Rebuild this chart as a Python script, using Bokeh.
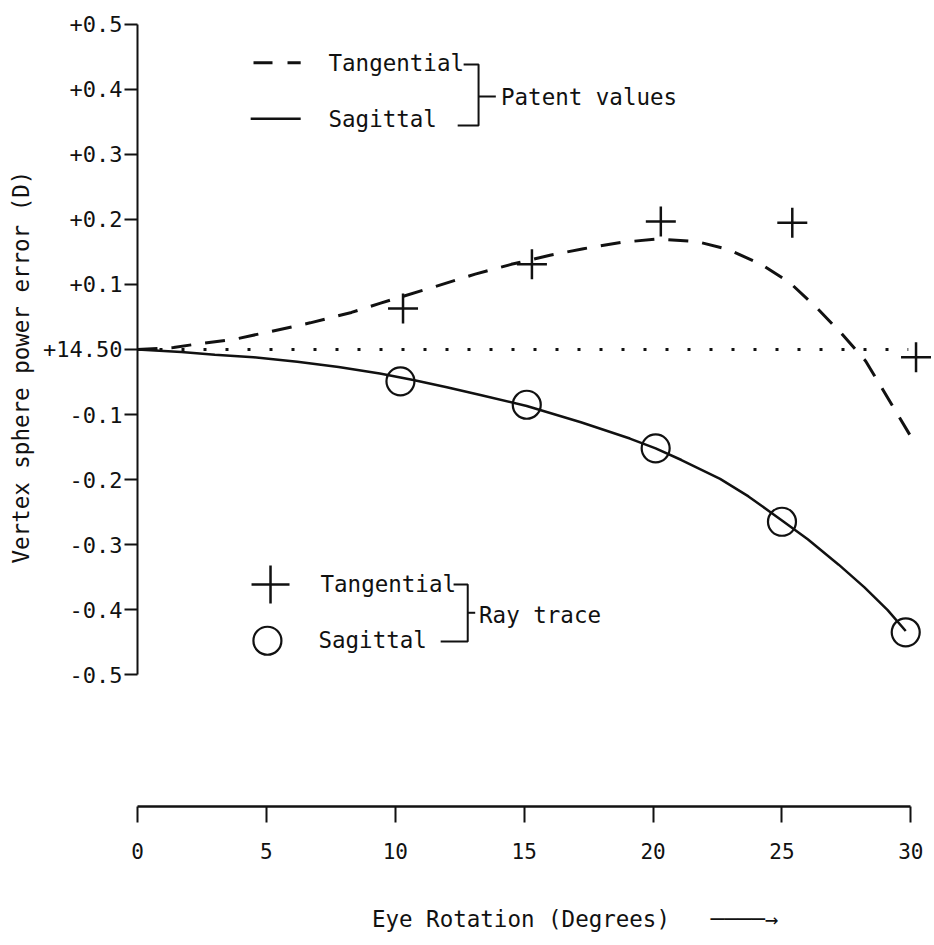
from bokeh.plotting import figure
from bokeh.models import Range1d, FixedTicker
from bokeh.core.properties import value
from bokeh.embed import file_html
from bokeh.resources import INLINE

INK = "#111111"
FONT = "DejaVu Sans Mono"
NB = "\u00a0"

# ---- axis ticks ----
y_ticks = [-0.5, -0.4, -0.3, -0.2, -0.1, 0.0, 0.1, 0.2, 0.3, 0.4, 0.5]
y_tick_labels = ["-0.5", "-0.4", "-0.3", "-0.2", "-0.1", "+14.50",
                 "+0.1", "+0.2", "+0.3", "+0.4", "+0.5"]
x_ticks = [0, 5, 10, 15, 20, 25, 30]

# ---- patent values (curves) ----
pat_tan_x = [0, 1.4, 2.4, 3.8, 5.2, 6.7, 8.3, 9.4, 11.4, 13.1, 14.5, 16.0, 17.3,
             18.8, 20.2, 21.7, 22.9, 24.2, 25.3, 26.4, 27.3, 28.25, 28.75, 29.4,
             30.0, 30.15]
pat_tan_y = [0, 0.003, 0.009, 0.016, 0.028, 0.041, 0.057, 0.071, 0.095, 0.116,
             0.131, 0.145, 0.155, 0.165, 0.170, 0.166, 0.154, 0.131, 0.103,
             0.062, 0.025, -0.018, -0.051, -0.094, -0.134, -0.150]

pat_sag_x = [0, 1.7, 3.0, 4.5, 6.2, 7.8, 9.4, 10.7, 12.0, 13.3, 15.1, 17.2, 19.1,
             20.1, 21.1, 22.6, 23.7, 25.0, 26.0, 27.2, 28.2, 29.1, 29.8]
pat_sag_y = [0, -0.004, -0.008, -0.012, -0.019, -0.027, -0.037, -0.047, -0.058,
             -0.070, -0.087, -0.112, -0.137, -0.152, -0.170, -0.199, -0.226,
             -0.263, -0.292, -0.331, -0.366, -0.401, -0.433]

# ---- ray trace (markers) ----
ray_tan_x = [10.3, 15.3, 20.3, 25.4, 30.2]
ray_tan_y = [0.063, 0.131, 0.197, 0.195, -0.012]
ray_sag_x = [10.2, 15.1, 20.1, 25.0, 29.8]
ray_sag_y = [-0.049, -0.085, -0.152, -0.265, -0.435]

# ---- reference line ----
ref_x = [0, 29.9]
ref_y = [0, 0]

legend_series = ["Tangential", "Sagittal"]
legend_groups = ["Patent values", "Ray trace"]
y_title = "Vertex sphere power error (D)"
x_title = "Eye Rotation (Degrees)"
x_arrow = "\u2500" * 4 + "\u2192"

p = figure(frame_width=794, frame_height=784,
           x_range=Range1d(0, 30.8), y_range=Range1d(-0.703, 0.503),
           output_backend="svg", toolbar_location=None,
           min_border_left=137, min_border_right=0, min_border_top=22,
           min_border_bottom=10)
p.grid.visible = False
p.outline_line_color = None
p.background_fill_color = "white"
p.border_fill_color = "white"

# y axis
ya = p.yaxis[0]
ya.ticker = FixedTicker(ticks=y_ticks)
ya.major_label_overrides = dict(zip(y_ticks, y_tick_labels))
ya.bounds = (-0.5, 0.5)
ya.axis_line_width = 2
ya.axis_line_color = INK
ya.major_tick_line_width = 2
ya.major_tick_line_color = INK
ya.major_tick_in = 0
ya.major_tick_out = 13
ya.minor_tick_line_color = None
ya.major_label_text_font = FONT
ya.major_label_text_font_size = "22px"
ya.major_label_text_color = INK
ya.major_label_standoff = 2
# leading no-break spaces lift the title so it is centred on the -0.5..+0.5 span
ya.axis_label = NB * 7 + y_title
ya.axis_label_standoff = 6
ya.axis_label_text_font = FONT
ya.axis_label_text_font_size = "22.5px"
ya.axis_label_text_font_style = "normal"
ya.axis_label_text_color = INK

# x axis
xa = p.xaxis[0]
xa.ticker = FixedTicker(ticks=x_ticks)
xa.bounds = (0, 30)
xa.axis_line_width = 2.5
xa.axis_line_color = INK
xa.major_tick_line_width = 2
xa.major_tick_line_color = INK
xa.major_tick_in = 0
xa.major_tick_out = 16
xa.minor_tick_line_color = None
xa.major_label_text_font = FONT
xa.major_label_text_font_size = "21px"
xa.major_label_text_color = INK
xa.major_label_standoff = 20
xa.axis_label = NB * 6 + x_title + NB * 3 + x_arrow
xa.axis_label_standoff = 44
xa.axis_label_text_font = FONT
xa.axis_label_text_font_size = "22.5px"
xa.axis_label_text_font_style = "normal"
xa.axis_label_text_color = INK

# data
p.line(ref_x, ref_y, line_color=INK, line_width=3, line_dash="3 19")
p.line(pat_tan_x, pat_tan_y, line_color=INK, line_width=3, line_dash="20 14")
p.line(pat_sag_x, pat_sag_y, line_color=INK, line_width=2.5)
p.scatter(ray_tan_x, ray_tan_y, marker="cross", size=30, line_color=INK, line_width=2.5)
p.scatter(ray_sag_x, ray_sag_y, marker="circle", size=28, fill_color=None,
          line_color=INK, line_width=2.2)

# ---- legend: patent values ----
p.line([4.50, 6.33], [0.441, 0.441], line_color=INK, line_width=3, line_dash="19 15")
p.line([4.39, 6.33], [0.355, 0.355], line_color=INK, line_width=2.5)
p.text([7.41, 7.41], [0.441, 0.355], text=legend_series, text_font=value(FONT),
       text_font_size="22.5px", text_baseline="middle", text_align="left", text_color=INK)
p.line([12.65, 13.23, 13.23, 12.42], [0.4385, 0.4385, 0.3446, 0.3446],
       line_color=INK, line_width=2)
p.line([13.23, 13.9], [0.389, 0.389], line_color=INK, line_width=2)
p.text([14.1], [0.389], text=[legend_groups[0]], text_font=value(FONT),
       text_font_size="22.5px", text_baseline="middle", text_align="left", text_color=INK)

# ---- legend: ray trace ----
p.scatter([5.16], [-0.3615], marker="cross", size=38, line_color=INK, line_width=2.5)
p.scatter([5.04], [-0.448], marker="circle", size=28, fill_color=None,
          line_color=INK, line_width=2.2)
p.text([7.10, 7.02], [-0.3615, -0.447], text=legend_series, text_font=value(FONT),
       text_font_size="22.5px", text_baseline="middle", text_align="left", text_color=INK)
p.line([12.26, 12.81, 12.81, 11.76], [-0.3615, -0.3615, -0.449, -0.449],
       line_color=INK, line_width=2)
p.line([12.81, 13.1], [-0.405, -0.405], line_color=INK, line_width=2)
p.text([13.25], [-0.408], text=[legend_groups[1]], text_font=value(FONT),
       text_font_size="22.5px", text_baseline="middle", text_align="left", text_color=INK)

open("out.html", "w").write(file_html(p, INLINE))
